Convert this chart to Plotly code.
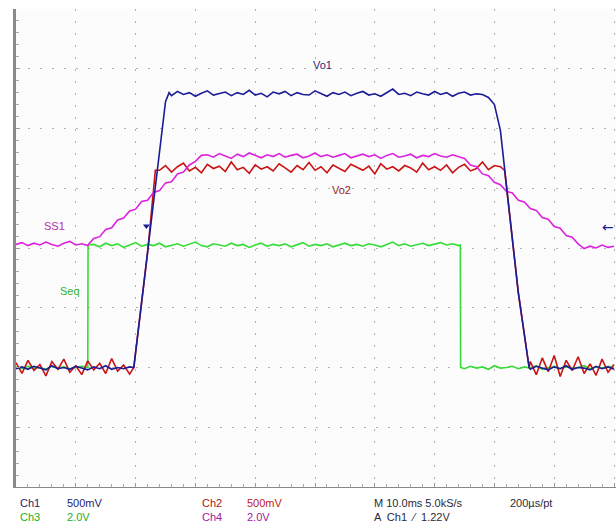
import plotly.graph_objects as go

# time in ms (10 ms/div), vertical in screen divisions (0..8)
VO1 = [(0,1.98),(1,2.01),(2,1.97),(3,2.02),(4,1.99),(5,1.96),(6,2.03),(7,1.98),(8,2.00),(9,1.97),
       (10,2.02),(11,1.99),(12,1.96),(13,2.01),(14,1.98),(15,2.03),(16,1.97),(17,2.00),(18,1.98),(19,2.01),
       (19.7,2.0),(20.5,2.67),(22,3.92),(23.5,5.17),(24.5,6.0),(25.0,6.45),(25.6,6.60),
       (26,6.55),(27,6.62),(28,6.57),(29,6.60),(30,6.54),(31,6.59),(32,6.63),(33,6.56),(34,6.58),(35,6.61),
       (36,6.55),(37,6.60),(38,6.57),(39,6.64),(40,6.56),(41,6.59),(42,6.53),(43,6.61),(44,6.58),(45,6.62),
       (46,6.55),(47,6.60),(48,6.57),(49,6.56),(50,6.63),(51,6.58),(52,6.54),(53,6.60),(54,6.57),(55,6.61),
       (56,6.55),(57,6.59),(58,6.62),(59,6.56),(60,6.58),(61,6.54),(62,6.60),(63,6.66),(64,6.57),(65,6.59),
       (66,6.55),(67,6.61),(68,6.58),(69,6.56),(70,6.62),(71,6.57),(72,6.60),(73,6.54),(74,6.59),(75,6.61),
       (76,6.56),(77,6.58),(78,6.57),(79,6.52),(80,6.40),(81,5.97),(82.5,4.6),(84,3.25),(85.8,2.0),
       (86,1.97),(87,2.02),(88,1.99),(89,1.96),(90,2.01),(91,1.98),(92,2.03),(93,1.97),(94,2.00),(95,1.99),
       (96,1.96),(97,2.02),(98,1.98),(99,2.01),(100,1.97)]

VO2 = [(0,2.08),(1,1.90),(2,2.12),(3,1.95),(4,2.05),(5,1.86),(6,2.10),(7,1.97),(8,2.14),(9,1.92),
       (10,2.03),(11,1.88),(12,2.11),(13,1.96),(14,2.07),(15,1.90),(16,2.15),(17,1.94),(18,2.04),(19,1.89),
       (19.7,2.0),(20.5,2.67),(22,3.92),(23.3,5.30),
       (24,5.30),(25,5.38),(26,5.27),(27,5.36),(28,5.42),(29,5.29),(30,5.35),(31,5.26),(32,5.40),(33,5.33),
       (34,5.37),(35,5.28),(36,5.44),(37,5.31),(38,5.35),(39,5.25),(40,5.39),(41,5.32),(42,5.36),(43,5.29),
       (44,5.41),(45,5.34),(46,5.27),(47,5.38),(48,5.31),(49,5.43),(50,5.30),(51,5.36),(52,5.26),(53,5.39),
       (54,5.33),(55,5.28),(56,5.40),(57,5.35),(58,5.30),(59,5.37),(60,5.24),(61,5.41),(62,5.32),(63,5.36),
       (64,5.29),(65,5.38),(66,5.34),(67,5.27),(68,5.42),(69,5.31),(70,5.36),(71,5.30),(72,5.39),(73,5.26),
       (74,5.35),(75,5.40),(76,5.29),(77,5.33),(78,5.44),(79,5.31),(80,5.38),(81,5.36),
       (81.7,5.30),(82.5,4.6),(84,3.25),(85.8,2.0),
       (86,2.10),(87,1.88),(88,2.16),(89,1.93),(90,2.20),(91,1.85),(92,2.12),(93,1.95),(94,2.18),(95,1.90),
       (96,2.06),(97,1.87),(98,2.14),(99,1.92),(100,2.05)]

SEQ = [(0,2.01),(1,1.98),(2,2.02),(3,1.99),(4,2.00),(5,1.97),(6,2.02),(7,1.99),(8,2.01),(9,1.98),
       (10,2.00),(11,2.02),(12.0,2.0),(12.05,4.05),
       (13,4.06),(14,4.02),(15,4.08),(16,4.04),(17,4.07),(18,4.01),(19,4.05),(20,4.09),(21,4.03),(22,4.06),
       (23,4.04),(24,4.08),(25,4.02),(26,4.05),(27,4.07),(28,4.03),(29,4.06),(30,4.10),(31,4.04),(32,4.02),
       (33,4.07),(34,4.05),(35,4.03),(36,4.08),(37,4.04),(38,4.06),(39,4.01),(40,4.05),(41,4.08),(42,4.03),
       (43,4.06),(44,4.04),(45,4.07),(46,4.02),(47,4.05),(48,4.09),(49,4.03),(50,4.06),(51,4.04),(52,4.07),
       (53,4.02),(54,4.05),(55,4.08),(56,4.04),(57,4.06),(58,4.03),(59,4.07),(60,4.05),(61,4.02),(62,4.06),
       (63,4.10),(64,4.04),(65,4.07),(66,4.03),(67,4.05),(68,4.08),(69,4.04),(70,4.06),(71,4.09),(72,4.05),
       (73,4.07),(74,4.04),(74.3,4.05),(74.35,2.0),
       (75,1.98),(76,2.02),(77,1.99),(78,2.01),(79,1.97),(80,2.03),(81,1.99),(82,2.00),(83,2.02),(84,1.98),
       (85,2.01),(86,1.99),(87,2.03),(88,1.97),(89,2.00),(90,2.02),(91,1.98),(92,2.01),(93,1.99),(94,2.00),
       (95,2.03),(96,1.98),(97,2.01),(98,1.99),(99,2.02),(100,2.00)]

SS1 = [(0,4.06),(1,4.09),(2,4.04),(3,4.08),(4,4.05),(5,4.10),(6,4.06),(7,4.03),(8,4.08),(9,4.11),
       (10,4.05),(11,4.07),(12,4.04),(12.2,4.07),
       (13,4.16),(14,4.19),(15,4.31),(16,4.34),(17,4.47),(18,4.50),(19,4.62),(20,4.65),(21,4.78),(22,4.80),
       (23,4.93),(24,4.96),(25,5.09),(26,5.11),(27,5.24),(28,5.27),(29,5.39),(30,5.45),(31,5.55),
       (32,5.56),(33,5.52),(34,5.58),(35,5.54),(36,5.50),(37,5.57),(38,5.53),(39,5.59),(40,5.55),(41,5.51),
       (42,5.56),(43,5.53),(44,5.58),(45,5.52),(46,5.55),(47,5.57),(48,5.51),(49,5.54),(50,5.59),(51,5.53),
       (52,5.56),(53,5.52),(54,5.55),(55,5.58),(56,5.51),(57,5.54),(58,5.57),(59,5.53),(60,5.56),(61,5.50),
       (62,5.55),(63,5.58),(64,5.52),(65,5.54),(66,5.57),(67,5.51),(68,5.55),(69,5.53),(70,5.58),(71,5.54),
       (72,5.52),(73,5.56),(74,5.53),
       (75,5.50),(76,5.39),(77,5.36),(78,5.24),(79,5.21),(80,5.10),(81,5.06),(82,4.95),(83,4.92),(84,4.80),
       (85,4.77),(86,4.66),(87,4.63),(88,4.51),(89,4.48),(90,4.36),(91,4.33),(92,4.21),(93,4.18),(94,4.07),
       (95,3.99),(96,4.03),(97,4.00),(98,4.05),(99,4.01),(100,4.03)]

TRACES = [("Seq", SEQ, "#36dc36"), ("Vo2", VO2, "#c81414"),
          ("SS1", SS1, "#dd22dd"), ("Vo1", VO1, "#1c1c96")]

LABELS = [("Vo1", 51.2, 7.06, "#2a2a7a"), ("Vo2", 54.5, 4.97, "#a02020"),
          ("SS1", 6.5, 4.37, "#b030b0"), ("Seq", 9.0, 3.28, "#30b030")]

INFO_ROW1 = [("Ch1", 18, "#1e1e70"), ("500mV", 65, "#1e1e70"), ("Ch2", 200, "#a01818"),
             ("500mV", 245, "#c02020"), ("M 10.0ms 5.0kS/s", 372, "#2a2a3a"), ("200µs/pt", 508, "#2a2a3a")]
INFO_ROW2 = [("Ch3", 18, "#22b022"), ("2.0V", 65, "#22b022"), ("Ch4", 200, "#a020a0"),
             ("2.0V", 245, "#a020a0"), ("A  Ch1  ⁄  1.22V", 372, "#2a2a3a")]

fig = go.Figure()
for name, pts, col in TRACES:
    fig.add_trace(go.Scatter(x=[p[0] for p in pts], y=[p[1] for p in pts], mode="lines",
                             line=dict(color=col, width=1.6), name=name, hoverinfo="skip"))

# trigger level marker on Ch1
fig.add_trace(go.Scatter(x=[21.8], y=[4.37], mode="markers",
                         marker=dict(symbol="triangle-down", size=6, color="#1c1c96"), hoverinfo="skip"))
# ground markers on the left
fig.add_trace(go.Scatter(x=[-1.0], y=[2.0], mode="markers", cliponaxis=False,
                         marker=dict(symbol="triangle-right", size=7, color="#30c030"), hoverinfo="skip"))
fig.add_trace(go.Scatter(x=[-1.1], y=[4.07], mode="markers", cliponaxis=False,
                         marker=dict(symbol="square", size=8, color="#e030e0"), hoverinfo="skip"))
# trigger position marker on top
fig.add_trace(go.Scatter(x=[22.2], y=[8.02], mode="markers", cliponaxis=False,
                         marker=dict(symbol="triangle-down", size=14, color="#1f5fd0"), hoverinfo="skip"))

for txt, x, y, col in LABELS:
    fig.add_annotation(x=x, y=y, text=txt, showarrow=False,
                       font=dict(family="Liberation Sans, Arial", size=11, color=col))

fig.add_annotation(x=1.0, y=4.35, xref="paper", text="←", showarrow=False, xanchor="right",
                   font=dict(family="DejaVu Sans", size=14, color="#1c1c96"))

W, L = 600, 16
for row, yy in ((INFO_ROW1, -0.0335), (INFO_ROW2, -0.063)):
    for txt, px, col in row:
        fig.add_annotation(x=(px - L) / W, y=yy, xref="paper", yref="paper", text=txt,
                           showarrow=False, xanchor="left", yanchor="middle",
                           font=dict(family="Liberation Sans, Arial", size=11, color=col))

fig.update_layout(
    width=616, height=525, showlegend=False,
    margin=dict(l=L, r=0, t=9, b=38),
    paper_bgcolor="#ffffff", plot_bgcolor="#fcfcfc",
    xaxis=dict(range=[0, 100.33], dtick=10, tick0=0, showticklabels=False, zeroline=False,
               showgrid=True, gridcolor="#b4b4b4", gridwidth=1, griddash="2px,10px",
               showline=True, linecolor="#8a8a8a", linewidth=1, mirror=False,
               ticks="inside", ticklen=4, tickcolor="#9a9a9a",
               minor=dict(dtick=2, ticks="inside", ticklen=3, tickcolor="#aaaaaa")),
    yaxis=dict(range=[0, 8], dtick=1, tick0=0, showticklabels=False, zeroline=False,
               showgrid=True, gridcolor="#b4b4b4", gridwidth=1, griddash="2px,10px",
               showline=True, linecolor="#8a8a8a", linewidth=3,
               ticks="inside", ticklen=4, tickcolor="#9a9a9a",
               minor=dict(dtick=0.2, ticks="inside", ticklen=3, tickcolor="#aaaaaa")),
)

fig.write_html("out.html")
